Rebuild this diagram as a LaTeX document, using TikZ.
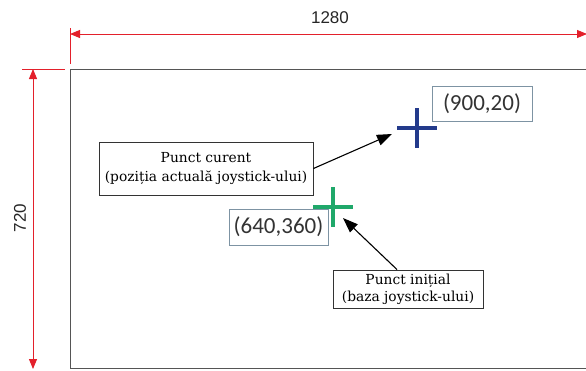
\documentclass[tikz,border=0pt]{standalone}
\usepackage{fontspec}
\setmainfont{DejaVu Serif}
\newfontfamily\dimfont{Liberation Sans}
\newfontfamily\coordfont{Carlito}
\usetikzlibrary{arrows.meta,calc}
\definecolor{dimred}{HTML}{E3202B}
\definecolor{framegray}{HTML}{555555}
\definecolor{crossblue}{HTML}{233A8B}
\definecolor{crossgreen}{HTML}{1FA86A}
\definecolor{lblborder}{HTML}{7D93A3}
\tikzset{
  dimline/.style={draw=dimred, line width=0.9pt, {Triangle[length=10pt,width=8pt]}-{Triangle[length=10pt,width=8pt]}},
  dimext/.style={draw=dimred, line width=0.8pt},
  dimtext/.style={font=\dimfont\fontsize{17}{20}\selectfont, text=black!85},
  frame/.style={draw=framegray, line width=1pt},
  crossarm/.style={line width=4pt},
  coordlbl/.style={draw=lblborder, line width=0.8pt, fill=white, inner sep=0pt,
    font=\coordfont\fontsize{23}{25}\selectfont, text=black!80},
  notebox/.style={draw=black!80, line width=0.9pt, fill=white, inner sep=0pt, align=center,
    text=black},
  pointer/.style={draw=black, line width=1.1pt, -{Triangle[length=15pt,width=11pt]}}
}
\begin{document}
\begin{tikzpicture}[x=1pt,y=-1pt]
\useasboundingbox (0,0) rectangle (586,370);

% screen outline
\draw[frame] (70,69) rectangle (640,368);

% width dimension
\coordinate (wl) at (70,34);
\coordinate (wr) at (587,34);
\draw[dimext] (70,28) -- (70,64);
\draw[dimline] (wl) -- (wr);
\node[dimtext] (wlabel) at (330,18) {1280};

% height dimension
\coordinate (ht) at (33,69);
\coordinate (hb) at (33,369);
\draw[dimext] (22,69) -- (65,69);
\draw[dimline] (ht) -- (hb);
\node[dimtext, rotate=90] (hlabel) at (20,218) {720};

% current point marker
\coordinate (cur) at (417,128);
\draw[crossarm, crossblue] ($(cur)+(-20,0)$) -- ($(cur)+(20,0)$);
\draw[crossarm, crossblue] ($(cur)+(0,-20)$) -- ($(cur)+(0,20)$);
\node[coordlbl, minimum width=100pt, minimum height=35pt] (curlbl) at (482,103.5) {(900,20)};

% initial point marker
\coordinate (ini) at (333,207);
\draw[crossarm, crossgreen] ($(ini)+(-20,0)$) -- ($(ini)+(20,0)$);
\draw[crossarm, crossgreen] ($(ini)+(0,-20)$) -- ($(ini)+(0,20)$);
\node[coordlbl, minimum width=99pt, minimum height=36pt] (inilbl) at (278.5,227) {(640,360)};

% explanation boxes
\node[notebox, minimum width=214pt, minimum height=53pt,
  font=\fontsize{13.8}{19}\selectfont] (curbox) at (206,168.5)
  {Punct curent\\(poziția actuală joystick-ului)};
\node[notebox, minimum width=150pt, minimum height=38pt,
  font=\fontsize{13.8}{17}\selectfont] (inibox) at (408,289)
  {Punct inițial\\(baza joystick-ului)};

% pointers
\coordinate (curtip) at (392,134);
\coordinate (initip) at (343,218);
\draw[pointer] (curbox.east) -- (curtip);
\draw[pointer] ($(inibox.north)+(-11,0)$) -- (initip);
\end{tikzpicture}
\end{document}
